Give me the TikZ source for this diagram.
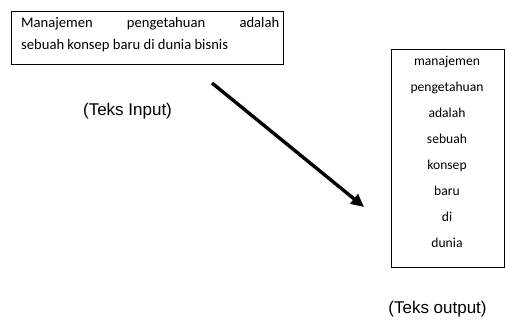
\documentclass[tikz,border=0pt]{standalone}
\usepackage{fontspec}
\setmainfont{Carlito}
\newfontfamily\arialfont{Liberation Sans}
\usetikzlibrary{arrows.meta}
\begin{document}
\begin{tikzpicture}[x=1pt,y=-1pt,
  boxline/.style={draw=black,line width=0.9pt},
  bodytext/.style={font=\fontsize{14.6}{18}\selectfont,inner sep=0pt},
  word/.style={font=\fontsize{13.6}{16}\selectfont,inner sep=0pt,anchor=base},
  caption/.style={font=\arialfont\fontsize{17}{19}\selectfont,inner sep=0pt},
  bigarrow/.style={line width=3.4pt,-{Triangle[length=13pt,width=12pt]}}]
\useasboundingbox (0,0) rectangle (506,320);
% input box
\draw[boxline] (11,11) rectangle (283,64);
\node[bodytext,anchor=base west,text width=258pt,align=left] (l1) at (21,28) {Manajemen\hfill pengetahuan\hfill adalah};
\node[bodytext,anchor=base west] (l2) at (21,49.5) {sebuah konsep baru di dunia bisnis};
\node[caption] (cin) at (127.5,111) {(Teks Input)};
% output box
\draw[boxline] (391,49) rectangle (504,267);
\node[word] (w1) at (447,65.5) {manajemen};
\node[word] (w2) at (447,91.5) {pengetahuan};
\node[word] (w3) at (447,117.5) {adalah};
\node[word] (w4) at (447,143.5) {sebuah};
\node[word] (w5) at (447,169.5) {konsep};
\node[word] (w6) at (447,195.5) {baru};
\node[word] (w7) at (447,221.5) {di};
\node[word] (w8) at (447,247.5) {dunia};
\node[caption] (cout) at (437.5,309) {(Teks output)};
% arrow
\coordinate (as) at (212,83);
\coordinate (ae) at (364,207);
\draw[bigarrow] (as) -- (ae);
\end{tikzpicture}
\end{document}
